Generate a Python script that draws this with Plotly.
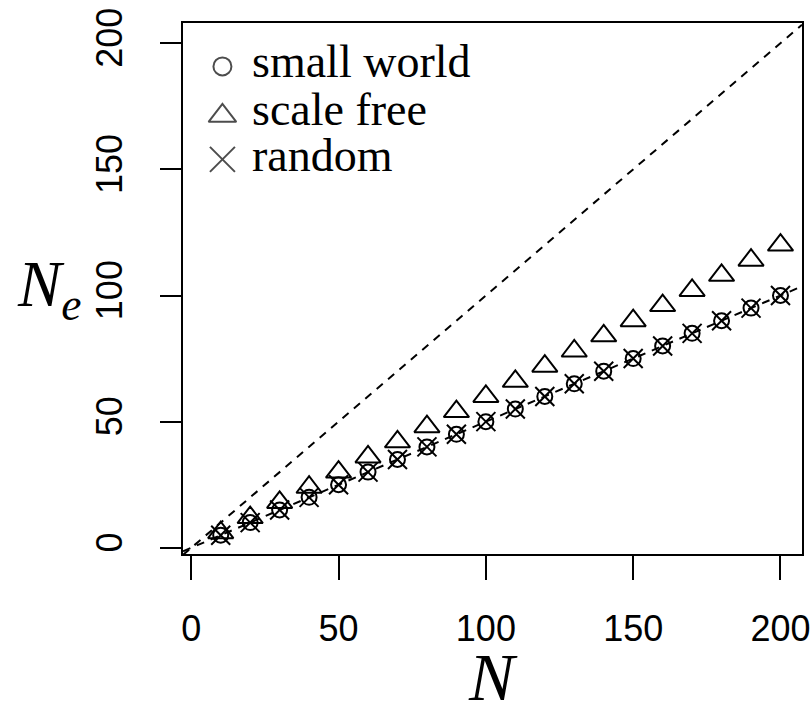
import plotly.graph_objects as go

# ---- data ----
N = [10, 20, 30, 40, 50, 60, 70, 80, 90, 100, 110, 120, 130, 140, 150, 160, 170, 180, 190, 200]
small_world = [5, 10, 15, 20, 25, 30, 35, 40, 45, 50, 55, 60, 65, 70, 75, 80, 85, 90, 95, 100]
scale_free = [6, 12, 18, 24, 30, 36, 42, 48, 54, 60, 66, 72, 78, 84, 90, 96, 102, 108, 114, 120]
random_net = [5, 10, 15, 20, 25, 30, 35, 40, 45, 50, 55, 60, 65, 70, 75, 80, 85, 90, 95, 100]
ref_slopes = [1.0, 0.5]
tick_vals = [0, 50, 100, 150, 200]
legend_labels = ["small world", "scale free", "random"]

XR = [-2.8, 207.3]
YR = [-2.45, 208.0]

W, H = 812, 701
L, R, T, B = 182.5, 9.5, 22.5, 146.5

fig = go.Figure()

for s in ref_slopes:
    fig.add_trace(go.Scatter(x=XR, y=[s * XR[0], s * XR[1]], mode="lines",
                             line=dict(color="black", width=2, dash="8px,7px"),
                             showlegend=False, hoverinfo="skip"))

fig.add_trace(go.Scatter(x=N, y=scale_free, mode="markers", cliponaxis=False,
                         marker=dict(symbol="triangle-up-open", size=22, color="black",
                                     line=dict(color="black", width=2)), showlegend=False))
fig.add_trace(go.Scatter(x=N, y=small_world, mode="markers", cliponaxis=False,
                         marker=dict(symbol="circle-open", size=15, color="black",
                                     line=dict(color="black", width=2)), showlegend=False))
fig.add_trace(go.Scatter(x=N, y=random_net, mode="markers", cliponaxis=False,
                         marker=dict(symbol="x-thin-open", size=19, color="black",
                                     line=dict(color="black", width=2)), showlegend=False))

# legend (drawn on an overlay axis in unit coordinates)
leg_x = [0.0637, 0.0637, 0.0637]
leg_y = [0.9182, 0.8252, 0.7432]
leg_sym = ["circle-open", "triangle-up-open", "x-thin-open"]
leg_size = [18, 24, 25]
txt_y = [0.9282, 0.8374, 0.7496]
fig.add_trace(go.Scatter(x=leg_x, y=leg_y, mode="markers", xaxis="x2", yaxis="y2",
                         marker=dict(symbol=leg_sym, size=leg_size, color="black",
                                     line=dict(color="black", width=2)),
                         showlegend=False, hoverinfo="skip"))
for lab, yy in zip(legend_labels, txt_y):
    fig.add_annotation(x=0.108, y=yy, xref="x2", yref="y2", text=lab, showarrow=False,
                       xanchor="left", yanchor="middle",
                       font=dict(family="Liberation Serif", size=46, color="black"))

axis_common = dict(showgrid=False, zeroline=False, showline=True, linecolor="black",
                   linewidth=2, mirror=True, ticks="outside", tickcolor="black",
                   tickwidth=2, tickvals=tick_vals, ticktext=[str(v) for v in tick_vals],
                   automargin=False,
                   tickfont=dict(family="Liberation Sans", size=36, color="black"))

fig.update_layout(
    width=W, height=H, margin=dict(l=L, r=R, t=T, b=B, pad=0, autoexpand=False),
    paper_bgcolor="white", plot_bgcolor="white",
    xaxis=dict(range=XR, ticklen=24, ticklabelstandoff=18, **axis_common),
    yaxis=dict(range=YR, ticklen=21, ticklabelstandoff=24, tickangle=-90, **axis_common),
    xaxis2=dict(range=[0, 1], overlaying="x", visible=False, automargin=False),
    yaxis2=dict(range=[0, 1], overlaying="y", visible=False, automargin=False),
    showlegend=False,
)

fig.add_annotation(x=0.5, y=-0.157, xref="paper", yref="paper", yanchor="top",
                   text="<i>N</i>", showarrow=False,
                   font=dict(family="Liberation Serif", size=68, color="black"))
fig.add_annotation(x=-0.215, y=0.5, xref="paper", yref="paper", xanchor="center",
                   text="<i>N</i><sub><i>e</i></sub>", showarrow=False,
                   font=dict(family="Liberation Serif", size=65, color="black"))

fig.write_html("out.html", config={"displayModeBar": False},
               post_script="document.body.style.margin='0';document.body.style.padding='0';document.body.style.overflow='hidden';")
